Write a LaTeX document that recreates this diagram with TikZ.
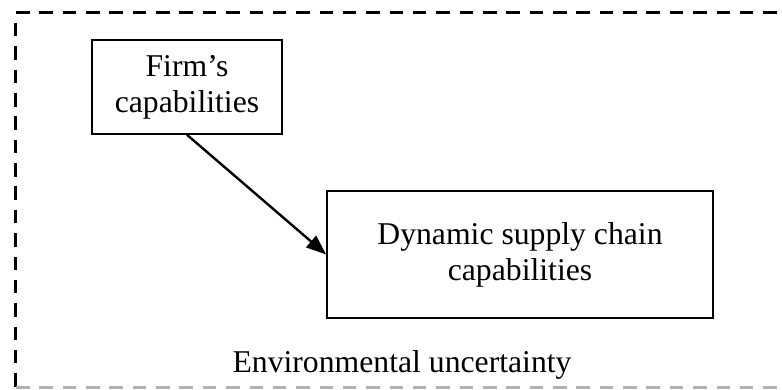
\documentclass[tikz,border=0pt]{standalone}
\usepackage{fontspec}
\setmainfont{Liberation Serif}
\usetikzlibrary{positioning,arrows.meta}

\tikzset{
  capbox/.style={draw, line width=1.6pt, align=center, inner sep=0pt},
  envline/.style={line width=3pt, dash pattern=on 13.5pt off 9.85pt}
}

\begin{document}
\begin{tikzpicture}[x=1pt, y=1pt, font=\fontsize{31.7}{36}\selectfont]
		
		\useasboundingbox (0,0) rectangle (782,389);
		
		% Dashed frame for the environment
		\draw[envline] (15,366) -- (15,2);
		\draw[envline] (16,376) -- (800,376);
		\draw[envline, gray!60] (16,1.5) -- (800,1.5);
		
		% Draw the boxes
		\node[capbox, minimum width=190pt, minimum height=94pt] (firm) at (187,302) {Firm’s\\capabilities};
		\node[capbox, minimum width=386pt, minimum height=127pt] (dyn) at (520,134.5) {Dynamic supply chain\\capabilities};
		
		% Label of the frame
		\node[anchor=base] (env) at (402,17) {Environmental uncertainty};
		
		% Arrow between the boxes
		\draw[line width=2.4pt, -{Triangle[length=20pt, width=15pt]}] (firm.south) -- (dyn.west);
		
	\end{tikzpicture}
\end{document}
